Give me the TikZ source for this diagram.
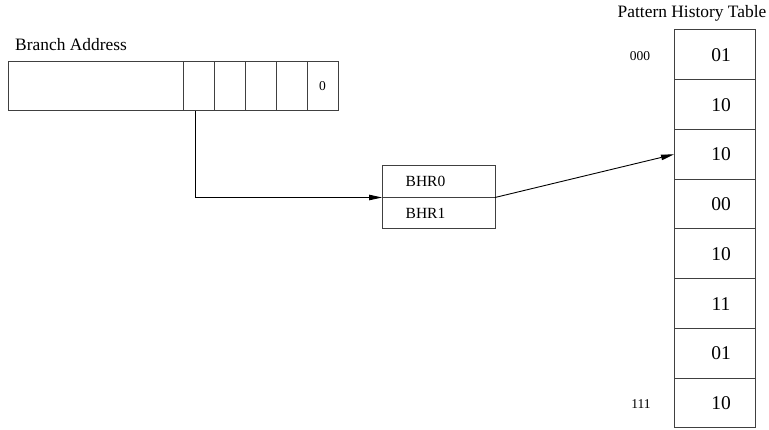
\documentclass[tikz,border=0pt]{standalone}
\usepackage{fontspec}
\setmainfont{Liberation Serif}
\usetikzlibrary{arrows.meta}
\begin{document}
\begin{tikzpicture}[x=1pt,y=-1pt,
  box/.style={draw=black!75,line width=1pt,inner sep=0pt,outer sep=0pt,anchor=north west},
  bcell/.style={box,minimum width=31pt,minimum height=49pt},
  pcell/.style={box,minimum width=81pt,minimum height=49.75pt},
  hcell/.style={box,minimum width=113pt,minimum height=31.5pt},
  val/.style={font=\fontsize{19.5}{21}\selectfont},
  title/.style={font=\fontsize{17.4}{20}\selectfont,inner sep=0pt},
  small/.style={font=\fontsize{13.5}{15}\selectfont,inner sep=0pt},
  hfont/.style={font=\fontsize{15.5}{17}\selectfont},
  arr/.style={draw=black,line width=0.9pt,-{Triangle[length=13pt,width=5.5pt]}}
]
\useasboundingbox (0,0) rectangle (769,430);

% titles
\node[title,anchor=base west] (ba) at (15,51) {Branch Address};
\node[title,anchor=base] (pht) at (692,17.5) {Pattern History Table};

% branch address register
\node[box,minimum width=175pt,minimum height=49pt] (bbig) at (8,62) {};
\node[bcell] (b1) at (183,62) {};
\node[bcell] (b2) at (214,62) {};
\node[bcell] (b3) at (245,62) {};
\node[bcell] (b4) at (276,62) {};
\node[bcell,font=\fontsize{13.5}{15}\selectfont] (b5) at (307,62) {0};

% BHR table
\node[hcell,hfont,label={[hfont,xshift=-13pt]center:BHR0}] (bhr0) at (382,166) {};
\node[hcell,hfont,label={[hfont,xshift=-13pt]center:BHR1}] (bhr1) at (382,197.5) {};

% pattern history table
\foreach \i/\v in {0/01,1/10,2/10,3/00,4/10,5/11,6/01,7/10}{
  \node[pcell,label={[val,xshift=6.5pt]center:\v}] (p\i) at (674,{30+49.75*\i}) {};
}
\node[small,anchor=base] (l000) at (640,61) {000};
\node[small,anchor=base] (l111) at (641,409) {111};

% connectors
\coordinate (tap) at ([xshift=-3.5pt]b1.south);
\draw[arr] (tap) |- (bhr0.south west);
\draw[arr] (bhr0.south east) -- (p2.west);
\end{tikzpicture}
\end{document}
